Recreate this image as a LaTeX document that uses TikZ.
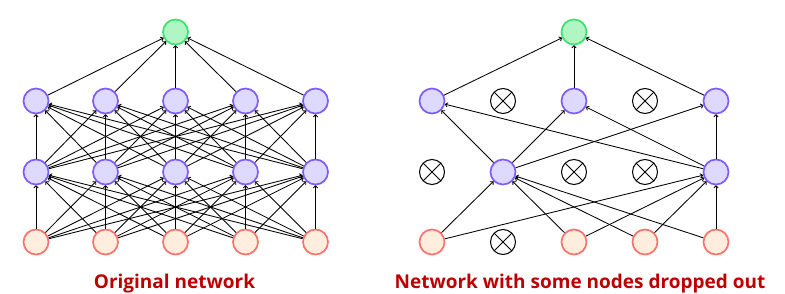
\documentclass[tikz,border=0pt]{standalone}
\usepackage{fontspec}
\setmainfont{Open Sans}
\usetikzlibrary{arrows.meta}
\definecolor{inline}{RGB}{250,115,110}
\definecolor{infill}{RGB}{255,238,222}
\definecolor{hidline}{RGB}{128,92,250}
\definecolor{hidfill}{RGB}{222,218,255}
\definecolor{outline}{RGB}{60,225,110}
\definecolor{outfill}{RGB}{176,246,196}
\definecolor{labred}{RGB}{188,0,0}

\begin{document}
\begin{tikzpicture}[x=1pt,y=-1pt,>={To[length=3pt,width=5pt]},
  unit/.style={circle,minimum size=25pt,inner sep=0pt,line width=1.7pt},
  innode/.style={unit,draw=inline,fill=infill},
  hidnode/.style={unit,draw=hidline,fill=hidfill},
  outnode/.style={unit,draw=outline,fill=outfill},
  dropnode/.style={circle,minimum size=25pt,inner sep=0pt,draw,line width=1pt,
    path picture={\draw[line width=1pt]
      (path picture bounding box.north west) -- (path picture bounding box.south east)
      (path picture bounding box.south west) -- (path picture bounding box.north east);}},
  wire/.style={->,line width=0.85pt},
  caption/.style={font=\bfseries\fontsize{19}{22}\selectfont,text=labred,anchor=base}]
  \useasboundingbox (0,0) rectangle (785,294);

  % original network
  \foreach \i/\x in {1/36,2/105.5,3/175.5,4/245.5,5/315.5} {
    \node[innode]  (i\i) at (\x,242) {};
    \node[hidnode] (a\i) at (\x,172) {};
    \node[hidnode] (b\i) at (\x,101) {};
  }
  \node[outnode] (o) at (175.5,32) {};
  \foreach \i in {1,...,5} {
    \foreach \j in {1,...,5} {
      \draw[wire] (i\i) -- (a\j);
      \draw[wire] (a\i) -- (b\j);
    }
    \draw[wire] (b\i) -- (o);
  }
  \node[caption] (cap1) at (174.5,288.5) {Original network};

  % thinned network
  \node[innode]   (ri1) at (432,242) {};
  \node[dropnode] (ri2) at (503,242) {};
  \node[innode]   (ri3) at (574,242) {};
  \node[innode]   (ri4) at (645,242) {};
  \node[innode]   (ri5) at (716,242) {};
  \node[dropnode] (ra1) at (432,172) {};
  \node[hidnode]  (ra2) at (503,172) {};
  \node[dropnode] (ra3) at (574,172) {};
  \node[dropnode] (ra4) at (645,172) {};
  \node[hidnode]  (ra5) at (716,172) {};
  \node[hidnode]  (rb1) at (432,101) {};
  \node[dropnode] (rb2) at (503,101) {};
  \node[hidnode]  (rb3) at (574,101) {};
  \node[dropnode] (rb4) at (645,101) {};
  \node[hidnode]  (rb5) at (716,101) {};
  \node[outnode]  (ro)  at (574,32) {};
  \foreach \s in {1,3,4,5} {
    \draw[wire] (ri\s) -- (ra2);
    \draw[wire] (ri\s) -- (ra5);
  }
  \foreach \t in {1,3,5} {
    \draw[wire] (ra2) -- (rb\t);
    \draw[wire] (ra5) -- (rb\t);
    \draw[wire] (rb\t) -- (ro);
  }
  \node[caption] (cap2) at (580,288.5) {Network with some nodes dropped out};
\end{tikzpicture}
\end{document}
